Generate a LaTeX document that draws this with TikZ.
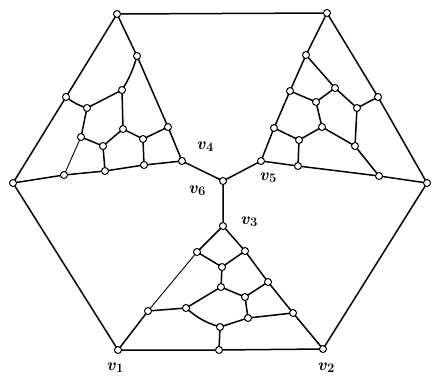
\documentclass[tikz,border=0pt]{standalone}
\begin{document}
\begin{tikzpicture}[x=1pt,y=-1pt,
  vtx/.style={circle,draw=black,fill=white,line width=1pt,minimum size=7pt,inner sep=0pt},
  edge/.style={line width=1.5pt,line cap=round},
  thinedge/.style={line width=0.9pt},
  lab/.style={font=\fontsize{17}{17}\selectfont\bfseries,inner sep=0pt}]
\newcommand{\vlab}[1]{\textit{v}\kern0.3pt\raisebox{-2pt}{\fontsize{13}{13}\selectfont #1}}
\useasboundingbox (0,0) rectangle (432,383);
% outer
\coordinate (A) at (117,14);
\coordinate (B) at (327,13);
\coordinate (C) at (427,183);
\coordinate (D) at (323,349);
\coordinate (E) at (118,350);
\coordinate (F) at (13,183);
\coordinate (O) at (223,181);
% top-left gadget
\coordinate (n1) at (137,56);
\coordinate (Q) at (122,90);
\coordinate (L1) at (66,97);
\coordinate (P) at (87,108);
\coordinate (S) at (123,129);
\coordinate (R1) at (168,127);
\coordinate (T) at (81,137);
\coordinate (T2) at (103,146);
\coordinate (U) at (143,139);
\coordinate (v4) at (182,161);
\coordinate (B3) at (144,165);
\coordinate (B2) at (105,171);
\coordinate (L2) at (64,175);
% top-right gadget
\coordinate (t1) at (306,55);
\coordinate (t2) at (290,91);
\coordinate (t3) at (335,88);
\coordinate (t4) at (316,102);
\coordinate (t5) at (378,97);
\coordinate (t6) at (357,108);
\coordinate (t7) at (274,128);
\coordinate (t8) at (322,127);
\coordinate (t9) at (299,140);
\coordinate (t10) at (355,146);
\coordinate (v5) at (261,161);
\coordinate (t11) at (298,166);
\coordinate (t12) at (379,176);
% bottom gadget
\coordinate (v3) at (223,226);
\coordinate (b1) at (197,252);
\coordinate (b2) at (245,251);
\coordinate (b3) at (222,267);
\coordinate (b4) at (268,282);
\coordinate (b5) at (221,287);
\coordinate (b6) at (245,297);
\coordinate (b7) at (148,311);
\coordinate (b8) at (186,308);
\coordinate (b9) at (293,313);
\coordinate (b10) at (248,318);
\coordinate (b11) at (220,327);
\coordinate (b12) at (219,350);

% edges
\draw[edge] (A) -- (B) (A) -- (L1) -- (F) (F) -- (E) -- (b12) -- (D) -- (C) (B) -- (t5) -- (C);
% TL
\draw[edge] (A) -- (n1) (n1) to[bend left=8] (Q) (n1) -- (R1) -- (v4) (Q) -- (P) (Q) -- (S)
  (L1) to[bend right=10] (P) (P) -- (T) (S) -- (T2) (S) -- (U) (R1) -- (U)
  (T) -- (T2) (T2) -- (B2) (U) -- (B3) (v4) -- (B3) -- (B2) -- (L2) -- (F) (v4) -- (O);
\draw[thinedge] (T) -- (L2);
% TR
\draw[edge] (B) -- (t1) (t1) -- (t2) (t1) -- (t3) (t2) -- (t4) (t2) -- (t7) (t3) -- (t4)
  (t3) -- (t6) (t4) -- (t8) (t6) -- (t5) (t6) -- (t10) (t7) -- (t9) (t7) -- (v5)
  (t8) -- (t9) (t8) -- (t10) (t9) -- (t11) (t10) -- (t12) (t11) -- (t12) (t11) -- (v5)
  (t12) -- (C) (v5) -- (O);
% bottom
\draw[edge] (v3) -- (O) (v3) -- (b1) (v3) -- (b2) (b1) -- (b3) (b2) -- (b3) (b2) -- (b4)
  (b3) -- (b5) (b4) -- (b6) (b4) -- (b9) (b5) -- (b6) (b5) -- (b8) (b6) -- (b10)
  (b10) -- (b9) (b10) -- (b11) (b11) -- (b12) (b7) -- (E) (b9) -- (D) (b7) -- (b8)
  (b8) to[bend right=12] (b11);
\draw[thinedge] (b1) -- (b7);

% vertices
\foreach \p in {A,B,C,D,E,F,O,n1,Q,L1,P,S,R1,T,T2,U,v4,B3,B2,L2,
  t1,t2,t3,t4,t5,t6,t7,t8,t9,t10,v5,t11,t12,
  v3,b1,b2,b3,b4,b5,b6,b7,b8,b9,b10,b11,b12}
  \node[vtx] (N\p) at (\p) {};

% labels
\node[lab] (lv4) at (205,147) {\vlab{4}};
\node[lab] (lv6) at (197,191) {\vlab{6}};
\node[lab] (lv5) at (268,178) {\vlab{5}};
\node[lab] (lv3) at (249,222) {\vlab{3}};
\node[lab] (lv1) at (115,368) {\vlab{1}};
\node[lab] (lv2) at (326,368) {\vlab{2}};
\end{tikzpicture}
\end{document}
